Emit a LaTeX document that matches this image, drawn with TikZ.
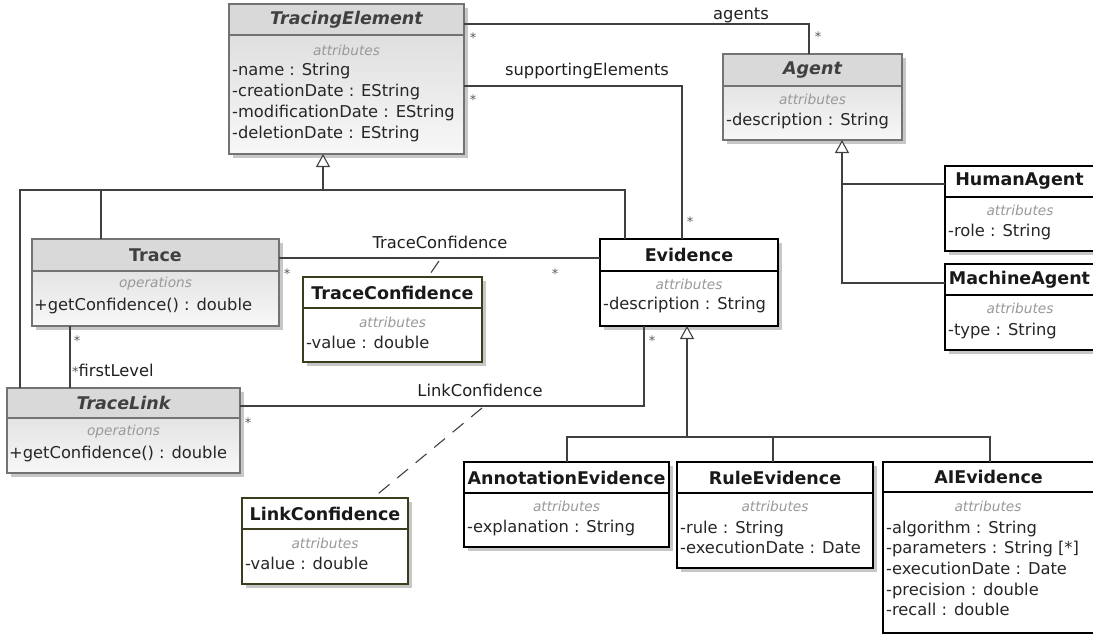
\documentclass[tikz,border=0pt]{standalone}
\usepackage{fontspec}
\setmainfont{DejaVu Sans}
\usetikzlibrary{arrows.meta}
\definecolor{lncol}{HTML}{404040}
\definecolor{olivec}{HTML}{3C3C1E}
\tikzset{
  x=1pt,y=-1pt,
  shadowc/.style={fill=black!22},
  absbox/.style={inner sep=0, outer sep=0, top color=black!15, bottom color=black!3},
  abshdr/.style={fill=black!15},
  absline/.style={draw=black!55, line width=1.3pt},
  abstitle/.style={font=\fontsize{17.5}{20}\selectfont\bfseries\itshape, text=black!75, inner sep=0},
  conbox/.style={inner sep=0, outer sep=0, fill=white},
  conhdr/.style={fill=white},
  conline/.style={draw=black, line width=1.6pt},
  contitle/.style={font=\fontsize{17.5}{20}\selectfont\bfseries, text=black!90, inner sep=0},
  asbox/.style={inner sep=0, outer sep=0, fill=white},
  ashdr/.style={fill=white},
  asline/.style={draw=olivec, line width=1.6pt},
  astitle/.style={font=\fontsize{17.5}{20}\selectfont\bfseries, text=black!90, inner sep=0},
  seclbl/.style={font=\fontsize{13.7}{16}\selectfont\itshape, text=black!40, inner sep=0},
  rowtxt/.style={font=\fontsize{16.3}{20}\selectfont, text=black!85, inner sep=0},
  conn/.style={draw=lncol, line width=1.1pt},
  lbl/.style={font=\fontsize{16.3}{20}\selectfont, text=black!88, inner sep=0},
  mult/.style={font=\fontsize{13}{13}\selectfont, text=black!65, inner sep=0},
  gen/.style={conn, -{Triangle[open, width=14pt, length=13pt, line width=1.1pt, fill=white]}},
  assocdash/.style={conn, dash pattern=on 14pt off 10pt},
}
% name, kind, x1, y1, x2, y2, header bottom, title, extra title options
\newcommand\umlcls[9]{%
  \fill[shadowc] ({#3+4},{#4+4}) rectangle ({#5+4},{#6+4});
  \node[#2box, minimum width={#5-#3}, minimum height={#6-#4}] (#1) at ({(#3+#5)/2},{(#4+#6)/2}) {};
  \fill[#2hdr] (#3,#4) rectangle (#5,#7);
  \draw[#2line] (#3,#7) -- (#5,#7);
  \draw[#2line] (#1.north west) rectangle (#1.south east);
  \node[#2title,#9] (#1-t) at ({(#3+#5)/2},{(#4+#7)/2}) {#8};
}
% prefix, x, first baseline, list of rows
\newcommand\umlrows[4]{%
  \foreach \t [count=\i from 0] in {#4} {\node[rowtxt, anchor=base west] (#1\i) at (#2, {#3+20.7*\i}) {\t};}
}
\begin{document}
\begin{tikzpicture}
\useasboundingbox (0,0) rectangle (1093,634);
\clip (0,0) rectangle (1093,634);
\fill[white] (0,0) rectangle (1093,634);

% ---------- classes ----------
\umlcls{te}{abs}{229}{4}{464}{154}{35}{TracingElement}{}
\node[seclbl] (te-s) at (346.5,50) {attributes};
\umlrows{te-r}{232}{76}{{-name : String},{-creationDate : EString},{-modificationDate : EString},{-deletionDate : EString}}

\umlcls{ag}{abs}{723}{54}{902}{140}{86}{Agent}{}
\node[seclbl] (ag-s) at (812.5,99) {attributes};
\umlrows{ag-r}{726}{125}{{-description : String}}

\umlcls{ha}{con}{945}{166}{1110}{251}{197}{HumanAgent}{xshift=-8pt}
\node[seclbl] (ha-s) at (1020,210) {attributes};
\umlrows{ha-r}{948}{236}{{-role : String}}

\umlcls{ma}{con}{945}{264}{1110}{350}{295}{MachineAgent}{xshift=-8pt}
\node[seclbl] (ma-s) at (1020,308) {attributes};
\umlrows{ma-r}{948}{335}{{-type : String}}

\umlcls{tr}{abs}{32}{239}{279}{326}{271}{Trace}{font=\fontsize{17.5}{20}\selectfont\bfseries}
\node[seclbl] (tr-s) at (155.5,284) {operations};
\umlrows{tr-r}{34}{310}{{+getConfidence() : double}}

\umlcls{tc}{as}{303}{277}{482}{362}{308}{TraceConfidence}{}
\node[seclbl] (tc-s) at (392.5,322) {attributes};
\umlrows{tc-r}{306}{348}{{-value : double}}

\umlcls{ev}{con}{600}{239}{778}{326}{271}{Evidence}{}
\node[seclbl] (ev-s) at (689,284) {attributes};
\umlrows{ev-r}{603}{309}{{-description : String}}

\umlcls{tl}{abs}{7}{388}{240}{473}{418}{TraceLink}{}
\node[seclbl] (tl-s) at (123.5,432) {operations};
\umlrows{tl-r}{9}{458}{{+getConfidence() : double}}

\umlcls{lc}{as}{242}{498}{408}{584}{529}{LinkConfidence}{}
\node[seclbl] (lc-s) at (325,543) {attributes};
\umlrows{lc-r}{245}{569}{{-value : double}}

\umlcls{ae}{con}{464}{462}{669}{547}{493}{AnnotationEvidence}{}
\node[seclbl] (ae-s) at (566.5,506) {attributes};
\umlrows{ae-r}{467}{532}{{-explanation : String}}

\umlcls{re}{con}{677}{462}{873}{568}{493}{RuleEvidence}{}
\node[seclbl] (re-s) at (775,506) {attributes};
\umlrows{re-r}{680}{533}{{-rule : String},{-executionDate : Date}}

\umlcls{ai}{con}{883}{462}{1110}{633}{492}{AIEvidence}{xshift=-8pt}
\node[seclbl] (ai-s) at (988,506) {attributes};
\umlrows{ai-r}{886}{533}{{-algorithm : String},{-parameters : String [*]},{-executionDate : Date},{-precision : double},{-recall : double}}

% ---------- generalizations ----------
\draw[gen] (323,190) -- (te.south -| 323,0);
\draw[conn] (tl.north -| 20,0) -- (20,190) -- (625,190) -- (ev.north -| 625,0);
\draw[conn] (101,190) -- (tr.north -| 101,0);

\draw[gen] (842,184) -- (ag.south -| 842,0);
\draw[conn] (ha.west |- 0,184) -- (842,184) -- (842,283) -- (ma.west |- 0,283);

\draw[gen] (687,437) -- (ev.south -| 687,0);
\draw[conn] (ae.north -| 567,0) -- (567,437) -- (990,437) -- (ai.north -| 990,0);
\draw[conn] (773,437) -- (re.north -| 773,0);

% ---------- associations ----------
\draw[conn] (te.east |- 0,24) -- (809,24) -- (ag.north -| 809,0);
\node[lbl] (l-agents) at (741,15) {agents};
\node[mult] (m1) at (473,38) {*};
\node[mult] (m2) at (818,37) {*};

\draw[conn] (te.east |- 0,86) -- (682,86) -- (ev.north -| 682,0);
\node[lbl] (l-supp) at (587,71) {supportingElements};
\node[mult] (m3) at (473,100) {*};
\node[mult] (m4) at (690,222) {*};

\draw[conn] (tr.east |- 0,258) -- (ev.west |- 0,258);
\node[lbl] (l-tc) at (440,242) {TraceConfidence};
\node[mult] (m5) at (287,274) {*};
\node[mult] (m6) at (555,274) {*};
\coordinate (tcA) at (439,261);
\draw[assocdash] (tcA) -- (tc.north -| 428,0);

\draw[conn] (tr.south -| 70,0) -- (tl.north -| 70,0);
\node[mult] (m7) at (77,341) {*};
\node[lbl, anchor=west] (l-fl) at (72,370) {{\fontsize{13}{13}\selectfont\color{black!65}*}firstLevel};

\draw[conn] (tl.east |- 0,406) -- (644,406) -- (ev.south -| 644,0);
\node[lbl] (l-lc) at (480,390) {LinkConfidence};
\node[mult] (m8) at (248,423) {*};
\node[mult] (m9) at (652,341) {*};
\coordinate (lcA) at (482,408);
\draw[assocdash] (lcA) -- (lc.north -| 373,0);
\end{tikzpicture}
\end{document}
